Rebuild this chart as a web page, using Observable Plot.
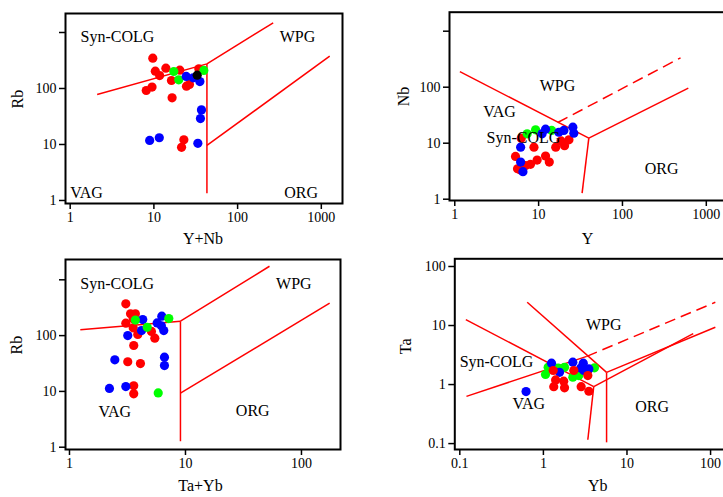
<!DOCTYPE html>
<html><head><meta charset="utf-8">
<script src="https://cdn.jsdelivr.net/npm/d3@7"></script>
<script src="https://cdn.jsdelivr.net/npm/@observablehq/plot@0.6"></script>
<style>
html,body{margin:0;padding:0;background:#fff;overflow:hidden;}
#wrap{position:relative;width:723px;height:497px;overflow:hidden;background:#fff;}
#wrap svg{position:absolute;}
</style></head><body><div id="wrap"></div>
<script>
// ---------- groups ----------
const groups = ["G1", "G2", "G3", "G4"];
const groupColors = ["#ff0000", "#00ff00", "#0000ff", "#000000"];

// ---------- Panel 1: Rb vs Y+Nb ----------
const p1Red = [[9.7,348],[10.4,204],[11.7,170],[13.9,231],[8.1,92],[9.5,106],[16.2,139],[20.4,212],[16.5,68],[24.5,110],[26.6,118],[34.4,225],[22.8,12.1],[21.4,8.9]];
const p1Green = [[17.3,201],[19.8,143],[39.5,210]];
const p1Blue = [[24.3,164],[29.5,155],[35.4,133],[37,41.5],[36,29],[8.9,11.8],[11.6,13.2],[33.5,10.5]];
const p1Black = [[32.9,173]];
const p1Lines = [[2.1,78,43,275],[43,275,266,1490],[43,275,43,1.35],[43,9.6,1260,378]];
const p1Regions = [["Syn-COLG",3.67,850],["WPG",520,850],["VAG",1.57,1.39],["ORG",575,1.39]];

// ---------- Panel 2: Nb vs Y ----------
const p2Red = [[6.2,12.3],[8.8,8.5],[5.3,5.8],[5.6,3.5],[6,3.35],[7,4],[8,4.2],[9.6,5.0],[12.1,5.9],[13.4,4.6],[16,8.5],[20.4,9],[23,11.5],[18.5,11]];
const p2Green = [[7.3,14.7],[9.2,17.3],[14.3,16.9]];
const p2Blue = [[12.1,17.8],[11,14.7],[17.4,15.7],[20,16.9],[25.6,19.3],[26.3,15.1],[6.1,8.5],[6.1,4.6],[6.5,3.1]];
const p2Lines = [[1.15,190,39.7,12.3],[39.7,12.3,610,96],[39.7,12.3,33,1.28]];
const p2Dashed = [[16.9,23.4,493,335]];
const p2Regions = [["WPG",16.8,107],["VAG",3.42,37],["Syn-COLG",6.6,12.6],["ORG",293,3.53]];

// ---------- Panel 3: Rb vs Ta+Yb ----------
const p3Red = [[3.06,371],[3.36,246],[3.7,246],[3.54,200],[3.06,167],[3.54,138],[3.88,105],[3.58,66.5],[5.09,119],[5.44,90],[3.18,34],[4.09,31.6],[3.58,12.6],[3.58,9.06]];
const p3Green = [[7.18,202],[5.82,9.4],[4.68,141],[3.7,190]];
const p3Blue = [[4.28,194],[4.18,123],[3.18,100],[5.7,169],[6.25,223],[6.5,123],[6.2,150],[2.46,36.8],[6.59,41],[6.59,29],[2.21,11.3],[3.06,12.2]];
const p3Lines = [[1.24,127,9.05,181],[9.05,181,53,1750],[9.05,181,9.05,1.28],[9.05,9.3,175,381]];
const p3Regions = [["Syn-COLG",2.58,848],["WPG",85.9,848],["VAG",2.46,4.36],["ORG",38,4.55]];

// ---------- Panel 4: Ta vs Yb ----------
const p4Red = [[1.31,1.73],[2.31,1.73],[1.4,1.2],[1.33,0.92],[1.75,1.14],[1.79,0.88],[2.83,0.92],[3.4,1.42],[3.5,0.77]];
const p4Green = [[1.14,1.96],[1.06,1.48],[1.79,1.96],[2.25,1.33],[2.65,1.42],[4.08,1.92],[1.5,1.9]];
const p4Blue = [[0.62,0.76],[1.25,2.3],[2.25,2.39],[3.0,2.3],[1.56,1.61],[3.04,1.73],[3.5,1.84],[2.8,1.9]];
const p4Lines = [[0.12,0.63,3.3,3.0],[0.118,12.6,4.0,0.925],[4.0,0.925,3.4,0.116],[4.0,0.925,62,7.3],[0.64,24.8,5.7,1.61],[5.7,1.61,5.7,0.105],[5.7,1.61,114,9.35]];
const p4Dashed = [[3.3,3.0,114,24.8]];
const p4Regions = [["WPG",5.27,10.4],["Syn-COLG",0.275,2.39],["VAG",0.668,0.471],["ORG",20,0.412]];

// ---------- tick labels ----------
const ticksA = [1, 10, 100, 1000];
const ticksB = [1, 10, 100];
const ticksC = [0.1, 1, 10, 100];

const wrap = document.getElementById("wrap");
const FONT = "'Liberation Serif', 'Times New Roman', serif";

function panel(o) {
  const pts = [];
  o.series.forEach(([g, arr]) => arr.forEach(([x, y]) => pts.push({x, y, g})));
  const fmt = labeled => d => labeled.includes(d) ? String(d) : "";
  const seg = {x1: d => d[0], y1: d => d[1], x2: d => d[2], y2: d => d[3]};
  const svg = Plot.plot({
    width: o.width, height: o.height,
    marginLeft: o.ml, marginRight: o.mr, marginTop: o.mt, marginBottom: o.mb,
    style: {fontFamily: FONT, fontSize: "14px", background: "transparent", color: "black", overflow: "visible"},
    x: {type: "log", domain: o.xd},
    y: {type: "log", domain: o.yd},
    color: {domain: groups, range: groupColors},
    marks: [
      Plot.link(o.solid, {...seg, stroke: "#ff0000", strokeWidth: 1.5}),
      Plot.link(o.dashed || [], {...seg, stroke: "#ff0000", strokeWidth: 1.5, strokeDasharray: "11,6"}),
      Plot.dot(pts, {x: "x", y: "y", fill: "g", r: 4.6}),
      Plot.text(o.regions, {x: d => d[1], y: d => d[2], text: d => d[0], fontSize: 16, fill: "black"}),
      Plot.frame({stroke: "black", strokeWidth: 2}),
      Plot.axisX({ticks: o.xt, tickFormat: fmt(o.xlab), tickSize: 6, tickPadding: 3, strokeWidth: 1.5, label: null}),
      Plot.axisY({ticks: o.yt, tickFormat: fmt(o.ylab), tickSize: 6, tickPadding: 3, strokeWidth: 1.5, label: null}),
      Plot.text([o.xl], {frameAnchor: "bottom", text: d => d, dy: o.xdy, dx: o.xdx, fontSize: 16, fill: "black"}),
      Plot.text([o.yl], {frameAnchor: "left", text: d => d, dx: o.ydx, rotate: -90, fontSize: 16, fill: "black"})
    ]
  });
  svg.style.left = o.left + "px";
  svg.style.top = o.top + "px";
  wrap.appendChild(svg);
}

panel({
  left: 0, top: 0, width: 360, height: 250, ml: 65, mr: 18, mt: 13, mb: 47,
  xd: [0.879, 1791], yd: [0.883, 2184],
  xt: ticksA, xlab: ticksA, yt: ticksA, ylab: ticksB,
  series: [["G1", p1Red], ["G2", p1Green], ["G3", p1Blue], ["G4", p1Black]],
  solid: p1Lines, regions: p1Regions,
  xl: "Y+Nb", xdy: 40, xdx: -1, yl: "Rb", ydx: -48
});

panel({
  left: 360, top: 0, width: 380, height: 250, ml: 89, mr: 13, mt: 11.7, mb: 50,
  xd: [0.865, 1790], yd: [0.948, 2184],
  xt: ticksA, xlab: ticksA, yt: ticksA, ylab: ticksB,
  series: [["G1", p2Red], ["G2", p2Green], ["G3", p2Blue]],
  solid: p2Lines, dashed: p2Dashed, regions: p2Regions,
  xl: "Y", xdy: 43, xdx: -1, yl: "Nb", ydx: -46
});

panel({
  left: 0, top: 250, width: 360, height: 247, ml: 65, mr: 20, mt: 9, mb: 48,
  xd: [0.924, 217], yd: [0.91, 2312],
  xt: ticksB, xlab: ticksB, yt: ticksA, ylab: ticksB,
  series: [["G1", p3Red], ["G3", p3Blue], ["G2", p3Green]],
  solid: p3Lines, regions: p3Regions,
  xl: "Ta+Yb", xdy: 41.7, xdx: -2.5, yl: "Rb", ydx: -49
});

panel({
  left: 360, top: 250, width: 380, height: 247, ml: 94.3, mr: 9, mt: 8.3, mb: 48,
  xd: [0.0871, 178], yd: [0.0794, 135],
  xt: ticksC, xlab: ticksC, yt: ticksC, ylab: ticksC,
  series: [["G2", p4Green], ["G3", p4Blue], ["G1", p4Red]],
  solid: p4Lines, dashed: p4Dashed, regions: p4Regions,
  xl: "Yb", xdy: 41.7, xdx: 4.6, yl: "Ta", ydx: -49.3
});
</script>
</body></html>
